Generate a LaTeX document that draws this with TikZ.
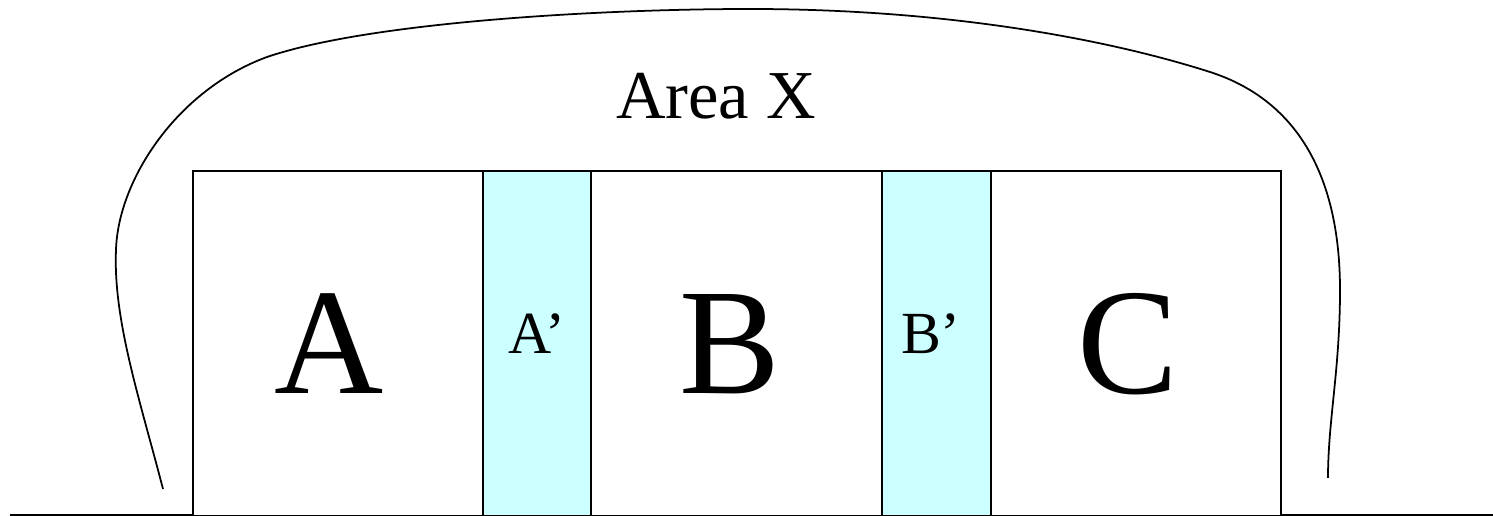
\documentclass[tikz,border=0pt]{standalone}
\usepackage{fontspec}
\setmainfont{Liberation Serif}
\definecolor{lightcyan}{HTML}{CCFFFF}
\begin{document}
\begin{tikzpicture}[x=0.01cm,y=-0.01cm,
  cell/.style={draw=black,line width=0.5pt,fill=white,inner sep=0pt,minimum height=3.45cm,anchor=north west},
  gap/.style={cell,fill=lightcyan},
  big/.style={inner sep=0pt,font=\fontsize{43}{43}\selectfont},
  small/.style={inner sep=0pt,font=\fontsize{17}{17}\selectfont},
  title/.style={inner sep=0pt,font=\fontsize{19.5}{19.5}\selectfont},
  outline/.style={line width=0.5pt}]
\useasboundingbox (0,0) rectangle (1493,516);
% ground line
\coordinate (g0) at (10,515);
\coordinate (g1) at (1493,515);
\draw[line width=0.5pt] (g0) -- (g1);
% cells
\node[cell,minimum width=2.90cm] (boxA) at (192,170) {};
\node[gap,minimum width=1.08cm] (boxAp) at (482,170) {};
\node[cell,minimum width=2.91cm] (boxB) at (590,170) {};
\node[gap,minimum width=1.09cm] (boxBp) at (881,170) {};
\node[cell,minimum width=2.90cm] (boxC) at (990,170) {};
% labels
\node[big] (labA) at (329,344) {A};
\node[big] (labB) at (730,344) {B};
\node[big] (labC) at (1128,344) {C};
\node[small] (labAp) at (537,334) {A’};
\node[small] (labBp) at (931,334) {B’};
\node[title] (labX) at (716,96) {Area X};
% enclosing curve
\coordinate (c0) at (163,489);
\coordinate (c1) at (116,250);
\coordinate (c2) at (267,57);
\coordinate (c3) at (750,9);
\coordinate (c4) at (1210,72);
\coordinate (c5) at (1340,290);
\coordinate (c6) at (1328,478);
\draw[outline] (c0) .. controls (140,400) and (113,320) .. (c1)
  .. controls (118,180) and (177,90) .. (c2)
  .. controls (370,22) and (600,9) .. (c3)
  .. controls (950,9) and (1110,40) .. (c4)
  .. controls (1300,101) and (1340,180) .. (c5)
  .. controls (1340,370) and (1328,420) .. (c6);
\end{tikzpicture}
\end{document}
